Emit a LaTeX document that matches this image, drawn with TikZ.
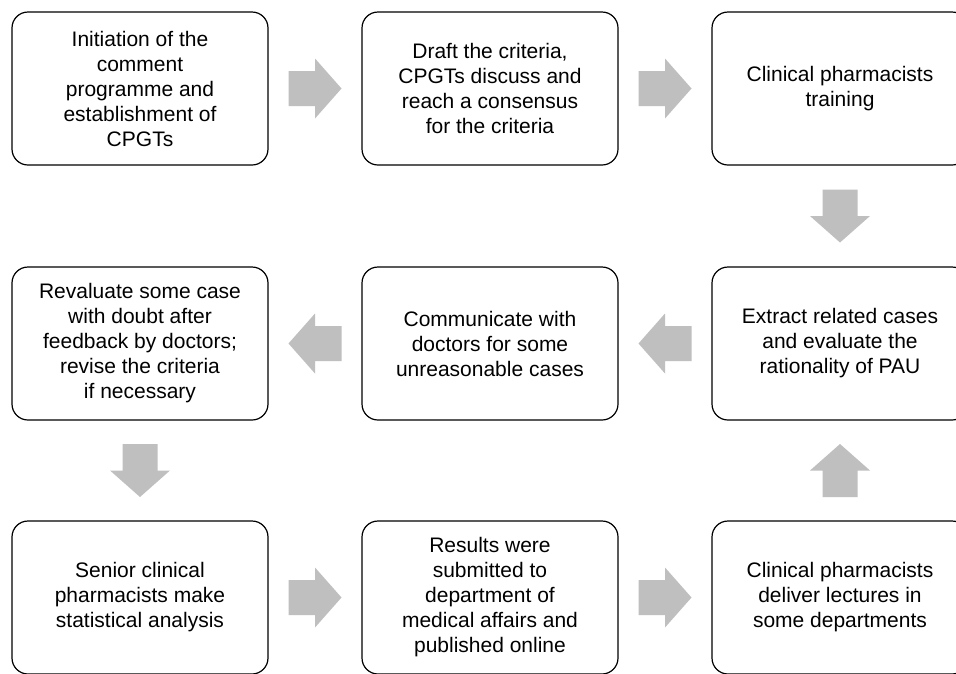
\documentclass[tikz,border=0pt]{standalone}
\usepackage{fontspec}
\setmainfont{Liberation Sans}
\usetikzlibrary{calc}
\definecolor{arrowgray}{RGB}{191,191,191}
\tikzset{
  stepbox/.style={draw=black, line width=1.2pt, rounded corners=16pt, fill=white,
    minimum width=256pt, minimum height=153pt, inner sep=0pt, align=center,
    font=\fontsize{21}{25}\selectfont},
  blockarrow/.style={fill=arrowgray, draw=none}
}
\newcommand\barrow[3]{%
  \fill[blockarrow, shift={($(#1)!0.5!(#2)$)}, rotate=#3]
    (-26.5,-17.5) -- (0,-17.5) -- (0,-30) -- (26.5,0) -- (0,30) -- (0,17.5) -- (-26.5,17.5) -- cycle;}
\begin{document}
\begin{tikzpicture}[x=1pt,y=-1pt]
\useasboundingbox (0,0) rectangle (956,673);
\clip (0,0) rectangle (956,673);
\fill[white] (0,0) rectangle (956,673);
% row 1
\node[stepbox] (b1) at (140,88.5) {Initiation of the\\comment\\programme and\\establishment of\\CPGTs};
\node[stepbox] (b2) at (490,88.5) {Draft the criteria,\\CPGTs discuss and\\reach a consensus\\for the criteria};
\node[stepbox] (b3) at (840,88.5) {Clinical pharmacists\\training};
% row 2
\node[stepbox] (b4) at (840,343.5) {Extract related cases\\and evaluate the\\rationality of PAU};
\node[stepbox] (b5) at (490,343.5) {Communicate with\\doctors for some\\unreasonable cases};
\node[stepbox] (b6) at (140,343.5) {Revaluate some case\\with doubt after\\feedback by doctors;\\revise the criteria\\if necessary};
% row 3
\node[stepbox] (b7) at (140,597.5) {Senior clinical\\pharmacists make\\statistical analysis};
\node[stepbox] (b8) at (490,597.5) {Results were\\submitted to\\department of\\medical affairs and\\published online};
\node[stepbox] (b9) at (840,597.5) {Clinical pharmacists\\deliver lectures in\\some departments};
% arrows
\barrow{b1.east}{b2.west}{0}
\barrow{b2.east}{b3.west}{0}
\barrow{b3.south}{b4.north}{-90}
\barrow{b4.west}{b5.east}{180}
\barrow{b5.west}{b6.east}{180}
\barrow{b6.south}{b7.north}{-90}
\barrow{b7.east}{b8.west}{0}
\barrow{b8.east}{b9.west}{0}
\barrow{b9.north}{b4.south}{90}
\end{tikzpicture}
\end{document}
